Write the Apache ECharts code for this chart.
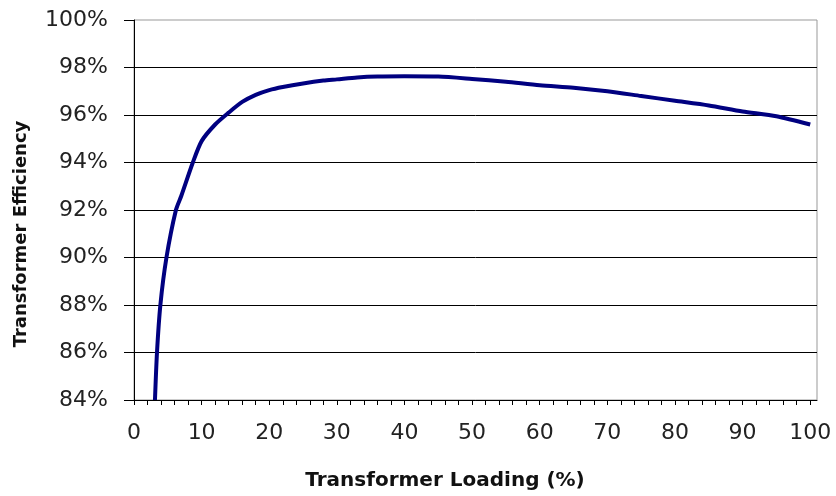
<!DOCTYPE html>
<html>
<head>
<meta charset="utf-8">
<script src="https://cdn.jsdelivr.net/npm/echarts@6/dist/echarts.min.js"></script>
<style>
html,body{margin:0;padding:0;background:#fff;}
#chart{width:836px;height:496px;}
</style>
</head>
<body>
<div id="chart"></div>
<script>
// Transformer loading (%) and efficiency (%)
var loading = [3.1, 3.4, 3.9, 4.8, 6.2, 7, 8.7, 10, 12, 14, 16, 18, 20, 22, 25, 28, 30, 33, 36, 40, 45, 50, 55, 60, 65, 70, 75, 80, 85, 90, 95, 100];
var efficiency = [84.0, 86.0, 88.0, 90.0, 92.0, 92.6, 94.0, 94.9, 95.6, 96.1, 96.55, 96.85, 97.05, 97.18, 97.33, 97.45, 97.5, 97.58, 97.62, 97.63, 97.62, 97.52, 97.4, 97.25, 97.15, 97.0, 96.8, 96.6, 96.4, 96.15, 95.95, 95.6];
var xTickValues = [0,2,4,6,8,10,12,14,16,18,20,22,24,26,28,30,32,34,36,38,40,42,44,46,48,50,52,54,56,58,60,62,64,66,68,70,72,74,76,78,80,82,84,86,88,90,92,94,96,98,100];
var xLabelValues = [0,10,20,30,40,50,60,70,80,90,100];
var xTitle = 'Transformer Loading (%)';
var yTitle = 'Transformer Efficiency';

var seriesData = loading.map(function (x, i) { return [x, efficiency[i]]; });

var chart = echarts.init(document.getElementById('chart'), null, {renderer: 'canvas'});
chart.setOption({
  backgroundColor: '#fff',
  animation: false,
  grid: {
    left: 134, right: 19, top: 20, bottom: 93,
    show: true, borderColor: '#999', borderWidth: 1, backgroundColor: 'transparent'
  },
  xAxis: {
    type: 'value',
    min: 0, max: 101,
    name: xTitle,
    nameLocation: 'middle',
    nameGap: 71,
    nameTextStyle: {
      fontFamily: 'DejaVu Sans', fontWeight: 'bold', fontSize: 20, color: '#111',
      padding: [0, 61, 0, 0]
    },
    axisLine: {show: true, lineStyle: {color: '#000', width: 1}},
    axisTick: {show: true, length: 5, lineStyle: {color: '#000'}, customValues: xTickValues},
    axisLabel: {
      customValues: xLabelValues,
      fontFamily: 'DejaVu Sans', fontSize: 22, color: '#222', margin: 22
    },
    splitLine: {show: false}
  },
  yAxis: {
    type: 'value',
    min: 84, max: 100, interval: 2,
    name: yTitle,
    nameLocation: 'middle',
    nameGap: 104,
    nameRotate: 90,
    nameTextStyle: {
      fontFamily: 'DejaVu Sans', fontWeight: 'bold', fontSize: 18, color: '#111',
      padding: [0, 48, 0, 0]
    },
    axisLine: {show: true, lineStyle: {color: '#000', width: 1}},
    axisTick: {show: true, length: 10, lineStyle: {color: '#000'}},
    axisLabel: {
      formatter: function (v) { return v + '%'; },
      fontFamily: 'DejaVu Sans', fontSize: 22, color: '#222', margin: 26
    },
    splitLine: {show: true, showMaxLine: false, lineStyle: {color: '#000', width: 1}}
  },
  series: [{
    type: 'line',
    data: seriesData,
    smooth: 0.25,
    symbol: 'none',
    clip: true,
    lineStyle: {color: '#000080', width: 4}
  }]
});
</script>
</body>
</html>
